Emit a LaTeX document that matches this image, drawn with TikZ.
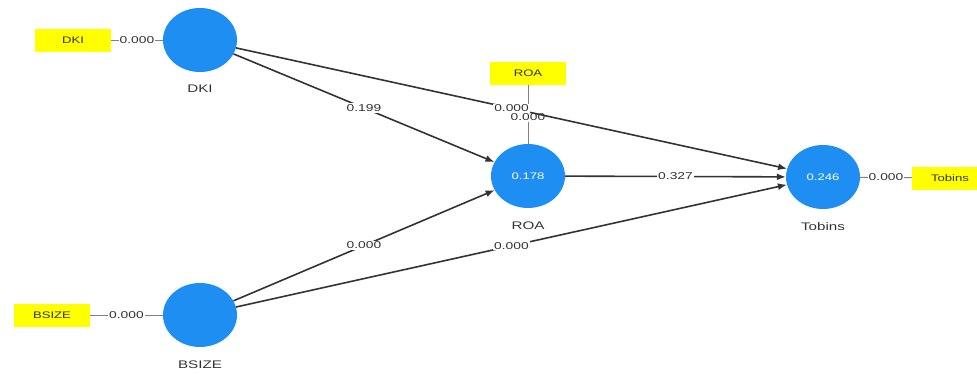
\documentclass[tikz,border=0pt]{standalone}
\usepackage{fontspec}
\setmainfont[FakeStretch=1.38]{Liberation Sans}
\usetikzlibrary{shapes.geometric,arrows.meta,positioning}

\definecolor{lvblue}{HTML}{1E8EF2}
\definecolor{boxyellow}{HTML}{FFFF00}
\definecolor{txtgray}{HTML}{333333}

\tikzset{
  latent/.style={ellipse, fill=lvblue, minimum width=74pt, minimum height=64pt, inner sep=0pt,
                 text=white, font=\fontsize{9.5}{10}\selectfont},
  lvname/.style={text=txtgray, inner sep=1pt, font=\fontsize{11}{12}\selectfont},
  indic/.style={fill=boxyellow, minimum width=76pt, minimum height=23pt, inner sep=0pt,
                text=txtgray, font=\fontsize{9.5}{10}\selectfont},
  loadline/.style={draw=gray, line width=0.9pt},
  pathline/.style={draw=txtgray, line width=1.6pt, -{Latex[length=9pt,width=7pt]}},
  coef/.style={fill=white, inner sep=1pt, text=txtgray, font=\fontsize{10}{11}\selectfont}
}

\begin{document}
\begin{tikzpicture}[x=1pt, y=-1pt]
  \useasboundingbox (0,0) rectangle (977,373);

  %latent variables
  \foreach \name/\x/\y/\val in {dki/200/40/, bsize/200/315/, roa/528/176/0.178, tobins/823/177/0.246}{
    \node[latent] (\name) at (\x,\y) {\val};
  }
  \foreach \name/\txt in {dki/DKI, bsize/BSIZE, roa/ROA, tobins/Tobins}{
    \node[lvname, below=12pt of \name] (\name-lbl) {\txt};
  }

  %indicators
  \node[indic] (dkibox) at (73,40) {DKI};
  \node[indic] (bsizebox) at (52,315) {BSIZE};
  \node[indic] (roabox) at (528,73) {ROA};
  \node[indic] (tobinsbox) at (950,178) {Tobins};

  \draw[loadline] (dkibox) -- node[coef] {0.000} (dki);
  \draw[loadline] (bsizebox) -- node[coef] {0.000} (bsize);
  \draw[loadline] (roabox) -- node[coef, pos=0.55] {0.000} (roa);
  \draw[loadline] (tobins) -- node[coef] {0.000} (tobinsbox);

  %structural paths
  \draw[pathline] (dki) -- node[coef] {0.199} (roa);
  \draw[pathline] (bsize) -- node[coef] {0.000} (roa);
  \draw[pathline] (roa) -- node[coef] {0.327} (tobins);
  \draw[pathline] (bsize) -- node[coef] {0.000} (tobins.192);
  \draw[pathline] (dki) -- node[coef] {0.000} (tobins.167);

\end{tikzpicture}
\end{document}
